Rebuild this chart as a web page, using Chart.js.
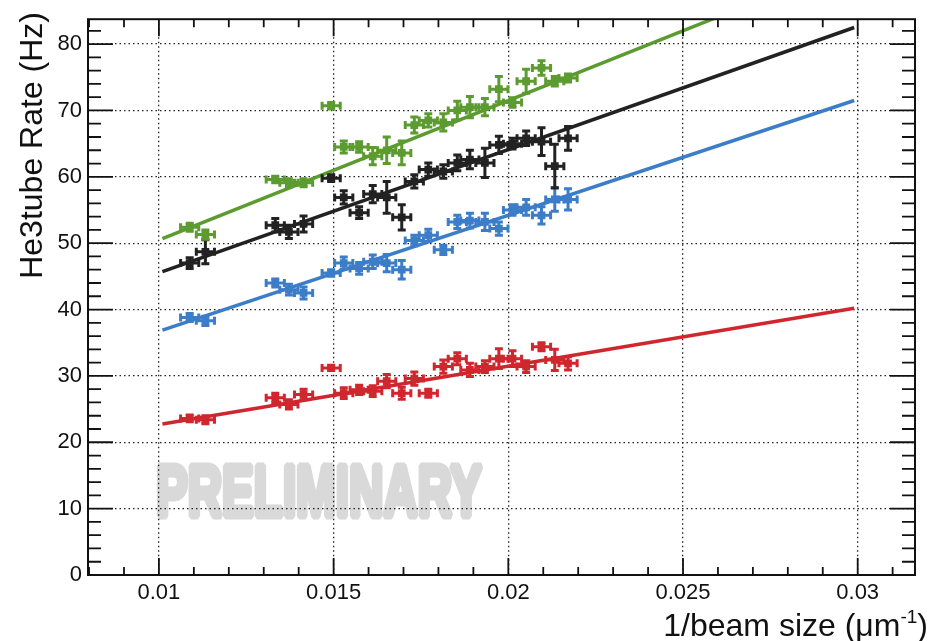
<!DOCTYPE html>
<html>
<head>
<meta charset="utf-8">
<script src="https://cdn.jsdelivr.net/npm/chart.js@4.4.1/dist/chart.umd.min.js"></script>
<style>
  html, body { margin: 0; padding: 0; background: #fff; }
  #c { display: block; }
</style>
</head>
<body>
<canvas id="c" width="933" height="641"></canvas>
<script>
// 1/beam size (um^-1), shared by the four series
const beamInv = [0.01088, 0.01133, 0.01333, 0.01372, 0.01414, 0.01493, 0.01529, 0.01573,
                 0.01612, 0.01652, 0.01695, 0.01731, 0.01771, 0.01814, 0.01854, 0.0189,
                 0.01933, 0.01973, 0.02012, 0.02051, 0.02095, 0.02133, 0.02171];
const beamErr = 0.00026;

const rateGreen = [52.4, 51.3, 59.6, 59.1, 59.1, 70.7, 64.5, 64.5, 63.1, 64.0, 63.6, 67.8,
                   68.5, 68.2, 70.0, 70.5, 70.5, 73.2, 71.2, 74.4, 76.4, 74.4, 74.9];
const errGreen  = [0.6, 0.7, 0.5, 0.6, 0.6, 0.5, 0.9, 0.8, 1.3, 2.0, 1.8, 1.2,
                   1.0, 1.3, 1.4, 1.6, 1.3, 1.9, 0.7, 1.8, 1.1, 0.7, 0.6];
const rateBlack = [47.0, 48.7, 52.7, 51.7, 52.9, 59.8, 56.9, 54.6, 57.4, 56.9, 53.9, 59.3,
                   61.1, 60.8, 62.1, 62.6, 62.1, 64.8, 65.0, 65.8, 65.3, 61.6, 65.8];
const errBlack  = [0.8, 1.8, 1.0, 1.0, 1.2, 0.5, 1.0, 0.9, 1.3, 2.4, 1.9, 1.0,
                   1.0, 1.0, 1.2, 1.4, 2.2, 1.3, 0.8, 1.1, 2.1, 3.3, 1.8];
const rateBlue  = [38.8, 38.3, 44.0, 43.0, 42.5, 45.5, 47.0, 46.2, 47.2, 47.0, 46.0, 50.4,
                   51.2, 49.0, 53.2, 53.4, 53.2, 52.2, 55.0, 55.4, 54.2, 56.6, 56.6];
const errBlue   = [0.6, 0.7, 0.6, 0.8, 0.9, 0.5, 0.9, 0.9, 1.0, 1.3, 1.4, 0.8,
                   0.9, 0.7, 1.0, 1.1, 1.3, 1.0, 0.8, 1.2, 1.3, 1.8, 1.6];
const rateRed   = [23.6, 23.4, 26.7, 25.7, 27.2, 31.2, 27.4, 27.9, 27.7, 29.2, 27.4, 29.6,
                   27.4, 31.4, 32.6, 30.9, 31.4, 32.6, 32.6, 31.4, 34.4, 32.4, 31.9];
const errRed    = [0.5, 0.6, 0.7, 0.7, 0.8, 0.4, 0.8, 0.7, 0.8, 1.0, 0.9, 1.0,
                   0.6, 1.0, 0.9, 1.0, 0.9, 1.5, 1.2, 0.9, 0.6, 1.6, 1.0];

// linear fits, drawn between the two x ends
const fitX     = [0.0101, 0.0299];
const fitGreen = [50.7, 92.3];
const fitBlack = [45.7, 82.5];
const fitBlue  = [36.9, 71.5];
const fitRed   = [22.75, 40.2];

const xTicks = [0.01, 0.015, 0.02, 0.025, 0.03];
const yTicks = [0, 10, 20, 30, 40, 50, 60, 70, 80];

const GREEN = '#5c9b2f', BLACK = '#222222', BLUE = '#3b7dc8', RED = '#d0262e';
const FONT = '"Liberation Sans", Arial, sans-serif';

function points(ys) {
    return beamInv.map((x, i) => ({ x: x, y: ys[i] }));
}
function fitLine(ys) {
    return fitX.map((x, i) => ({ x: x, y: ys[i] }));
}

function markerSet(ys, errs, color) {
    return {
        data: points(ys),
        errY: errs,
        backgroundColor: color,
        borderColor: color,
        pointStyle: 'rect',
        pointRadius: 5.5,
        borderWidth: 0,
        order: 1
    };
}
function fitSet(ys, color) {
    return {
        data: fitLine(ys),
        showLine: true,
        borderColor: color,
        borderWidth: 3.5,
        pointRadius: 0,
        order: 2
    };
}

// error bars under each marker set, with small end caps
const errorBars = {
    id: 'errorBars',
    beforeDatasetDraw(chart, args) {
        const ds = chart.data.datasets[args.index];
        if (!ds.errY) return;
        const xs = chart.scales.x, ys = chart.scales.y, ctx = chart.ctx;
        ctx.save();
        ctx.strokeStyle = ds.borderColor;
        ctx.lineWidth = 3;
        ds.data.forEach((p, i) => {
            const px = xs.getPixelForValue(p.x);
            const py = ys.getPixelForValue(p.y);
            const x0 = xs.getPixelForValue(p.x - beamErr);
            const x1 = xs.getPixelForValue(p.x + beamErr);
            const y0 = ys.getPixelForValue(p.y - ds.errY[i]);
            const y1 = ys.getPixelForValue(p.y + ds.errY[i]);
            ctx.beginPath();
            ctx.moveTo(x0, py); ctx.lineTo(x1, py);
            ctx.moveTo(px, y0); ctx.lineTo(px, y1);
            ctx.moveTo(x0, py - 4); ctx.lineTo(x0, py + 4);
            ctx.moveTo(x1, py - 4); ctx.lineTo(x1, py + 4);
            ctx.moveTo(px - 4, y0); ctx.lineTo(px + 4, y0);
            ctx.moveTo(px - 4, y1); ctx.lineTo(px + 4, y1);
            ctx.stroke();
        });
        ctx.restore();
    }
};

// heavy grey watermark, under the grid
const watermark = {
    id: 'watermark',
    beforeDraw(chart) {
        const ctx = chart.ctx;
        ctx.save();
        ctx.font = 'bold 72px ' + FONT;
        ctx.fillStyle = '#d9d9d9';
        ctx.strokeStyle = '#d9d9d9';
        ctx.lineWidth = 7;
        ctx.lineJoin = 'bevel';
        ctx.textBaseline = 'alphabetic';
        const w = ctx.measureText('PRELIMINARY').width;
        ctx.translate(156, 516);
        ctx.scale(326 / w, 1);
        ctx.strokeText('PRELIMINARY', 0, 0);
        ctx.fillText('PRELIMINARY', 0, 0);
        ctx.restore();
    }
};

// ROOT-like frame with inward ticks on all four sides, plus axis titles
const frame = {
    id: 'frame',
    afterDraw(chart) {
        const { ctx, chartArea: a } = chart;
        const xs = chart.scales.x, ys = chart.scales.y;
        ctx.save();
        ctx.strokeStyle = '#111';
        ctx.lineWidth = 2;
        ctx.strokeRect(a.left, a.top, a.right - a.left, a.bottom - a.top);
        ctx.lineWidth = 1.8;
        ctx.beginPath();
        for (let k = Math.ceil(xs.min / 0.001); k * 0.001 <= xs.max; k++) {
            const px = xs.getPixelForValue(k * 0.001);
            const len = k % 5 === 0 ? 17 : 8;
            ctx.moveTo(px, a.bottom); ctx.lineTo(px, a.bottom - len);
            ctx.moveTo(px, a.top); ctx.lineTo(px, a.top + len);
        }
        for (let k = 0; k * 2 <= ys.max; k++) {
            const py = ys.getPixelForValue(k * 2);
            const len = k % 5 === 0 ? 25 : 13;
            ctx.moveTo(a.left, py); ctx.lineTo(a.left + len, py);
            ctx.moveTo(a.right, py); ctx.lineTo(a.right - len, py);
        }
        ctx.stroke();

        // axis titles
        ctx.fillStyle = '#111';
        ctx.font = '32px ' + FONT;
        ctx.textBaseline = 'alphabetic';
        const sup = '-1';
        const tail = ')';
        ctx.textAlign = 'left';
        const headText = '1/beam size (\u03bcm';
        const wHead = ctx.measureText(headText).width;
        const wTail = ctx.measureText(tail).width;
        ctx.font = '19px ' + FONT;
        const wSup = ctx.measureText(sup).width;
        const right = 928;
        const base = 636;
        let x = right - wTail - wSup - wHead;
        ctx.font = '32px ' + FONT;
        ctx.fillText(headText, x, base);
        ctx.font = '19px ' + FONT;
        ctx.fillText(sup, x + wHead, base - 13);
        ctx.font = '32px ' + FONT;
        ctx.fillText(tail, x + wHead + wSup, base);

        ctx.translate(42, 12);
        ctx.rotate(-Math.PI / 2);
        ctx.textAlign = 'right';
        ctx.fillText('He3tube Rate (Hz)', 0, 0);
        ctx.restore();
    }
};

new Chart(document.getElementById('c'), {
    type: 'scatter',
    data: {
        datasets: [
            markerSet(rateGreen, errGreen, GREEN),
            markerSet(rateBlack, errBlack, BLACK),
            markerSet(rateBlue, errBlue, BLUE),
            markerSet(rateRed, errRed, RED),
            fitSet(fitGreen, GREEN),
            fitSet(fitBlack, BLACK),
            fitSet(fitBlue, BLUE),
            fitSet(fitRed, RED)
        ]
    },
    options: {
        responsive: false,
        animation: false,
        devicePixelRatio: 1,
        layout: { padding: { left: 0, top: 10, right: 18, bottom: 0 } },
        plugins: {
            legend: { display: false },
            tooltip: { enabled: false }
        },
        scales: {
            x: {
                type: 'linear',
                min: 0.00797,
                max: 0.03164,
                afterBuildTicks: s => { s.ticks = xTicks.map(v => ({ value: v })); },
                afterFit: s => { s.height = 66; },
                grid: { color: '#222', lineWidth: 1.3, drawTicks: false },
                border: { display: false, dash: [1.5, 3] },
                ticks: {
                    padding: 5,
                    color: '#111',
                    font: { family: FONT, size: 22 },
                    callback: v => String(Number(v.toFixed(4)))
                }
            },
            y: {
                type: 'linear',
                min: 0,
                max: 83.75,
                afterBuildTicks: s => { s.ticks = yTicks.map(v => ({ value: v })); },
                afterFit: s => { s.width = 88; },
                grid: { color: '#222', lineWidth: 1.3, drawTicks: false },
                border: { display: false, dash: [1.5, 3] },
                ticks: {
                    padding: 6,
                    color: '#111',
                    font: { family: FONT, size: 22 }
                }
            }
        }
    },
    plugins: [errorBars, watermark, frame]
});
</script>
</body>
</html>
